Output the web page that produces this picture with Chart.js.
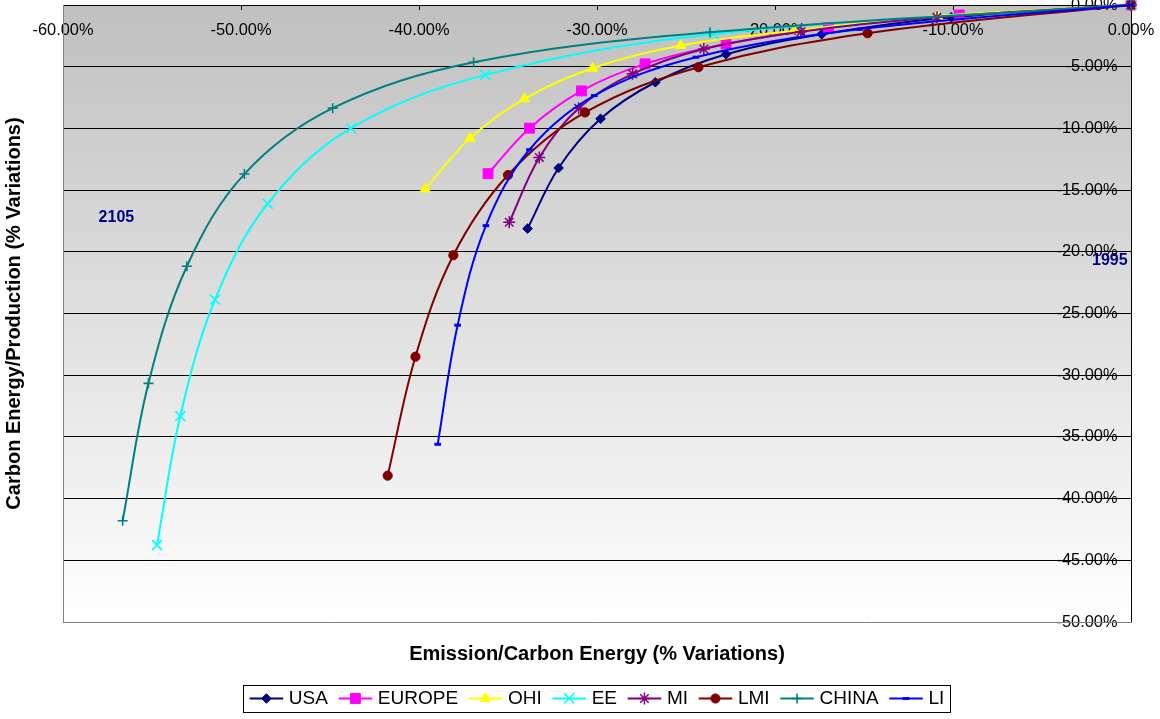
<!DOCTYPE html>
<html>
<head>
<meta charset="utf-8">
<script src="https://cdn.jsdelivr.net/npm/chart.js@4.4.1/dist/chart.umd.min.js"></script>
<style>
html,body{margin:0;padding:0;background:#ffffff;}
#wrap{width:1160px;height:719px;position:relative;}
canvas{display:block;}
</style>
</head>
<body>
<div id="wrap"><canvas id="c" width="1160" height="719"></canvas></div>
<script>
// ---------- DATA (in %) ----------
const seriesNames = ['USA', 'EUROPE', 'OHI', 'EE', 'MI', 'LMI', 'CHINA', 'LI'];

const usaX    = [0, -10.1, -17.38, -22.75, -26.72, -29.8, -32.16, -33.9];
const usaY    = [0, -1.0, -2.37, -3.99, -6.26, -9.22, -13.21, -18.12];

const europeX = [0, -9.65, -17.0, -22.75, -27.3, -30.87, -33.79, -36.12];
const europeY = [0, -0.81, -1.84, -3.16, -4.77, -6.96, -9.98, -13.67];

const ohiX    = [0, -10.87, -18.9, -25.3, -30.25, -34.08, -37.13, -39.65];
const ohiY    = [0, -0.89, -2.08, -3.29, -5.12, -7.6, -10.79, -14.91];

const eeX     = [0, -23.45, -36.28, -43.82, -48.5, -51.46, -53.41, -54.72];
const eeY     = [0, -2.35, -5.66, -9.98, -16.1, -23.87, -33.31, -43.77];

const miX     = [0, -10.9, -18.54, -24.0, -28.0, -31.03, -33.24, -34.93];
const miY     = [0, -1.0, -2.16, -3.56, -5.58, -8.36, -12.35, -17.61];

const lmiX    = [0, -14.8, -24.3, -30.67, -35.0, -38.07, -40.2, -41.76];
const lmiY    = [0, -2.29, -5.04, -8.71, -13.78, -20.28, -28.5, -38.14];

const chinaX  = [0, -23.65, -36.93, -44.85, -49.81, -53.04, -55.2, -56.65];
const chinaY  = [0, -2.21, -4.64, -8.36, -13.7, -21.17, -30.66, -41.8];

const liX     = [0, -15.26, -24.44, -30.15, -33.8, -36.24, -37.83, -38.95];
const liY     = [0, -1.97, -4.23, -7.34, -11.73, -17.88, -25.95, -35.6];

const xTickValues = [-60, -50, -40, -30, -20, -10, 0];
const yTickValues = [0, -5, -10, -15, -20, -25, -30, -35, -40, -45, -50];

const yearLabels = ['2105', '1995'];
const yearLabelX = [-57.0, -1.19];
const yearLabelY = [-17.2, -20.75];

const xTitle = 'Emission/Carbon Energy (% Variations)';
const yTitle = 'Carbon Energy/Production (% Variations)';

// ---------- STYLES ----------
const FONT = "'Liberation Sans', Arial, sans-serif";
const xsAll = [usaX, europeX, ohiX, eeX, miX, lmiX, chinaX, liX];
const ysAll = [usaY, europeY, ohiY, eeY, miY, lmiY, chinaY, liY];
const colors = ['#000080', '#FF00FF', '#FFFF00', '#00FFFF', '#800080', '#800000', '#008080', '#0000FF'];
const markers = [
  {style: 'rectRot', r: 4.8, bw: 1, fill: true},
  {style: 'rect', r: 7, bw: 1, fill: true},
  {style: 'triangle', r: 6, bw: 1, fill: true},
  {style: 'crossRot', r: 7, bw: 1.6, fill: false},
  {style: 'star', r: 6, bw: 1.5, fill: false},
  {style: 'circle', r: 4.6, bw: 1, fill: true},
  {style: 'cross', r: 5, bw: 1.6, fill: false},
  {style: 'line', r: 3.3, bw: 3, fill: false}
];

const N = seriesNames.length;
const datasets = seriesNames.map((name, i) => ({
  label: name,
  data: xsAll[i].map((x, j) => ({x: x, y: ysAll[i][j]})),
  showLine: true,
  borderColor: colors[i],
  backgroundColor: colors[i],
  borderWidth: 2,
  tension: 0.36,
  pointStyle: markers[i].style,
  pointRadius: markers[i].r,
  pointBorderWidth: markers[i].bw,
  pointBackgroundColor: colors[i],
  pointBorderColor: colors[i],
  clip: false,
  order: N - i,
  xAxisID: 'x',
  yAxisID: 'y'
}));

function pct(v) { return Number(v).toFixed(2) + '%'; }
function zeroPad(s) { s.paddingTop = 0; s.paddingBottom = 0; s.paddingLeft = 0; s.paddingRight = 0; }

// ---------- PLUGINS ----------
const bgPlugin = {
  id: 'plotBg',
  beforeDraw(chart) {
    const {ctx, chartArea: a} = chart;
    const g = ctx.createLinearGradient(0, a.top, 0, a.bottom);
    g.addColorStop(0, '#c0c0c0');
    g.addColorStop(1, '#ffffff');
    ctx.save();
    ctx.fillStyle = g;
    ctx.fillRect(a.left, a.top, a.right - a.left, a.bottom - a.top);
    ctx.restore();
  }
};

const yearPlugin = {
  id: 'yearLabels',
  afterDatasetsDraw(chart) {
    const {ctx} = chart;
    const sx = chart.scales.x, sy = chart.scales.y;
    ctx.save();
    ctx.font = 'bold 16px ' + FONT;
    ctx.fillStyle = '#000080';
    ctx.textAlign = 'center';
    ctx.textBaseline = 'middle';
    yearLabels.forEach((t, i) => {
      ctx.fillText(t, sx.getPixelForValue(yearLabelX[i]), sy.getPixelForValue(yearLabelY[i]));
    });
    ctx.restore();
  }
};

const LEG_LINE = 33.5;
const legendDecor = {
  id: 'legendDecor',
  afterDraw(chart) {
    const lg = chart.legend;
    if (!lg || !lg.legendHitBoxes || !lg.legendHitBoxes.length) return;
    const {ctx} = chart;
    const hb = lg.legendHitBoxes;
    ctx.save();
    let minL = Infinity, maxR = -Infinity, minT = Infinity, maxB = -Infinity;
    hb.forEach((b, k) => {
      const item = lg.legendItems[k];
      const i = item.datasetIndex;
      const cy = b.top + b.height / 2;
      ctx.strokeStyle = colors[i];
      ctx.lineWidth = 2;
      ctx.beginPath();
      ctx.moveTo(b.left, cy);
      ctx.lineTo(b.left + LEG_LINE, cy);
      ctx.stroke();
      ctx.fillStyle = colors[i];
      ctx.strokeStyle = colors[i];
      ctx.lineWidth = markers[i].bw;
      Chart.helpers.drawPoint(ctx, {pointStyle: markers[i].style, radius: markers[i].r, borderWidth: markers[i].bw, rotation: 0}, b.left + LEG_LINE / 2, cy);
      minL = Math.min(minL, b.left);
      maxR = Math.max(maxR, b.left + b.width);
      minT = Math.min(minT, b.top);
      maxB = Math.max(maxB, b.top + b.height);
    });
    ctx.strokeStyle = '#000000';
    ctx.lineWidth = 1;
    const cy = (minT + maxB) / 2;
    ctx.strokeRect(Math.round(minL - 6.4) + 0.5, Math.round(cy - 13.7) + 0.5, Math.round(maxR - minL + 12.8), Math.round(27.4));
    ctx.restore();
  }
};

// ---------- CHART ----------
Chart.defaults.font.family = FONT;
Chart.defaults.color = '#000000';

new Chart(document.getElementById('c'), {
  type: 'scatter',
  data: {datasets: datasets},
  plugins: [bgPlugin, yearPlugin, legendDecor],
  options: {
    responsive: false,
    devicePixelRatio: 1,
    animation: false,
    events: [],
    layout: {autoPadding: false, padding: {left: 0, right: 0, top: 0, bottom: 1}},
    plugins: {
      tooltip: {enabled: false},
      legend: {
        display: true,
        position: 'bottom',
        fullSize: false,
        align: 'center',
        labels: {
          boxWidth: 29.7,
          boxHeight: 2,
          padding: 10.7,
          color: '#000000',
          font: {size: 19, family: FONT},
          sort: (a, b) => a.datasetIndex - b.datasetIndex,
          generateLabels: (chart) => Chart.defaults.plugins.legend.labels.generateLabels(chart).map(l => Object.assign(l, {
            fillStyle: 'rgba(0,0,0,0)', strokeStyle: 'rgba(0,0,0,0)', lineWidth: 0
          }))
        }
      }
    },
    scales: {
      x: {
        type: 'linear',
        position: 'top',
        min: -60, max: 0,
        afterBuildTicks: (s) => { s.ticks = xTickValues.map(v => ({value: v})); },
        afterFit: (s) => { s.height = 5; zeroPad(s); },
        ticks: {
          mirror: true,
          padding: 15.5,
          font: {size: 16.4, family: FONT},
          color: '#000000',
          callback: (v) => pct(v)
        },
        grid: {display: true, drawOnChartArea: false, drawTicks: true, tickLength: -5, color: '#000000'},
        border: {display: true, color: '#000000', width: 1}
      },
      y: {
        type: 'linear',
        position: 'right',
        min: -50, max: 0,
        afterBuildTicks: (s) => { s.ticks = yTickValues.map(v => ({value: v})); },
        afterFit: (s) => { s.width = 29; zeroPad(s); },
        ticks: {
          mirror: true,
          padding: -13.5,
          font: {size: 16.4, family: FONT},
          color: '#000000',
          callback: (v) => pct(v)
        },
        grid: {
          display: true,
          drawTicks: false,
          color: (ctx) => (ctx.tick && ctx.tick.value === -50) ? 'rgba(0,0,0,0)' : '#000000',
          lineWidth: 1
        },
        border: {display: true, color: '#000000', width: 1}
      },
      x2: {
        type: 'linear',
        axis: 'x',
        position: 'bottom',
        min: -60, max: 0,
        afterFit: (s) => { s.height = 56.3; zeroPad(s); },
        ticks: {display: false},
        grid: {display: false, drawTicks: false},
        border: {display: true, color: '#808080', width: 1},
        title: {
          display: true,
          text: xTitle,
          color: '#000000',
          font: {size: 20, weight: 'bold', family: FONT},
          padding: {top: 0, bottom: 12.3}
        }
      },
      y2: {
        type: 'linear',
        axis: 'y',
        position: 'left',
        min: -50, max: 0,
        afterFit: (s) => { s.width = 63; zeroPad(s); },
        ticks: {display: false},
        grid: {display: false, drawTicks: false},
        border: {display: true, color: '#808080', width: 1},
        title: {
          display: true,
          text: yTitle,
          color: '#000000',
          font: {size: 20, weight: 'bold', family: FONT},
          padding: {top: 2, bottom: 0}
        }
      }
    }
  }
});
</script>
</body>
</html>
